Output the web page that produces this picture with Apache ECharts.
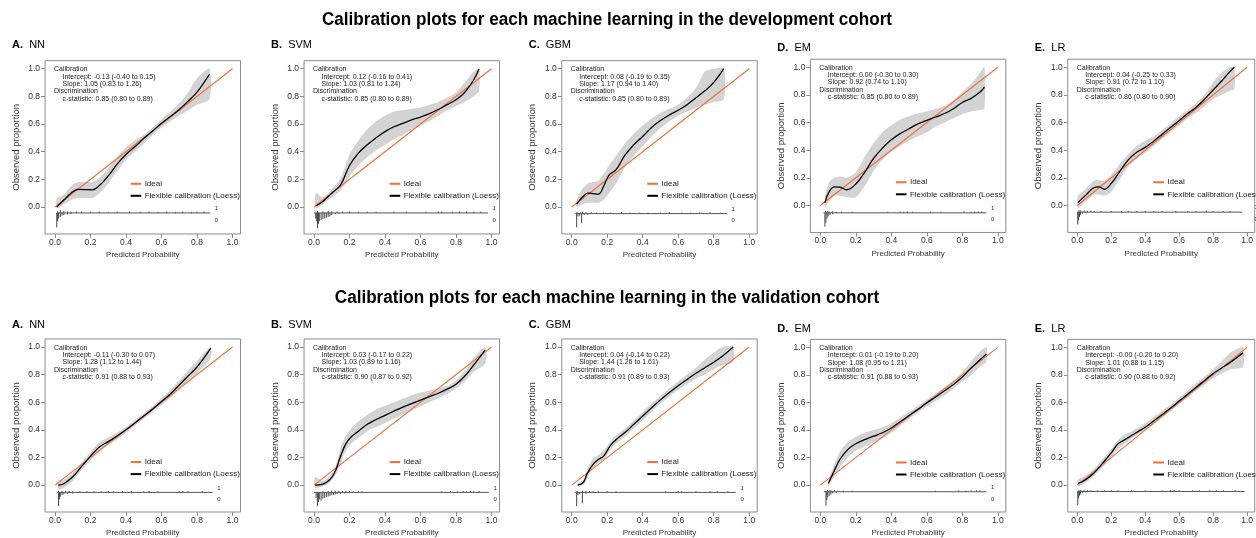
<!DOCTYPE html>
<html><head><meta charset="utf-8">
<script src="https://cdn.jsdelivr.net/npm/echarts@6/dist/echarts.min.js"></script>
<style>html,body{margin:0;padding:0;background:#fff}#c{width:1256px;height:538px}</style>
</head><body><div id="c"></div>
<script>
// ---------------- DATA ----------------
const tickValues = [0, 0.2, 0.4, 0.6, 0.8, 1.0];
const panelLetters = ['A.', 'B.', 'C.', 'D.', 'E.'];
const modelNames = ['NN', 'SVM', 'GBM', 'EM', 'LR'];
const cohortTitles = [
  'Calibration plots for each machine learning in the development cohort',
  'Calibration plots for each machine learning in the validation cohort'
];
const legendNames = ['Ideal', 'Flexible calibration (Loess)'];
const idealLine = [[0, 0], [1, 1]];

// development cohort
const devNN_x   = [0.01,0.05,0.09,0.13,0.17,0.21,0.25,0.3,0.35,0.4,0.45,0.5,0.55,0.6,0.65,0.7,0.75,0.8,0.87];
const devNN_fit = [0.0,0.05,0.1,0.127,0.126,0.124,0.155,0.225,0.31,0.38,0.435,0.495,0.55,0.605,0.655,0.705,0.765,0.83,0.96];
const devNN_hi  = [0.06,0.09,0.15,0.18,0.18,0.18,0.21,0.28,0.36,0.43,0.48,0.52,0.575,0.635,0.69,0.75,0.83,0.93,1.0];
const devNN_lo  = [-0.01,0.02,0.05,0.065,0.065,0.065,0.1,0.17,0.26,0.34,0.4,0.46,0.52,0.575,0.62,0.66,0.7,0.74,0.78];
const devNN_up  = [[0.015,0.012],[0.03,0.02],[0.05,0.015],[0.07,0.012],[0.09,0.01],[0.12,0.01],[0.15,0.01],[0.2,0.008],[0.25,0.01],[0.3,0.008],[0.35,0.01],[0.42,0.01],[0.48,0.008],[0.53,0.01],[0.58,0.008],[0.63,0.01],[0.68,0.008],[0.72,0.01],[0.77,0.008],[0.8,0.01],[0.84,0.01]];
const devNN_down= [[0.01,0.105],[0.015,0.06],[0.02,0.04],[0.03,0.03],[0.04,0.02],[0.05,0.015],[0.07,0.01],[0.09,0.008]];
const devNN_range = [0.01, 0.875];
const devNN_stats = ['-0.13 (-0.40 to 0.15)', '1.05 (0.83 to 1.26)', '0.85 (0.80 to 0.89)'];

const devSVM_x   = [0.01,0.05,0.1,0.15,0.2,0.25,0.3,0.35,0.4,0.45,0.5,0.55,0.6,0.65,0.7,0.75,0.8,0.85,0.9,0.93];
const devSVM_fit = [0.007,0.04,0.1,0.16,0.3,0.39,0.45,0.5,0.545,0.58,0.605,0.63,0.65,0.675,0.705,0.74,0.775,0.83,0.92,1.0];
const devSVM_hi  = [0.1,0.07,0.13,0.21,0.38,0.48,0.56,0.62,0.66,0.69,0.7,0.71,0.72,0.74,0.76,0.79,0.83,0.9,0.98,1.0];
const devSVM_lo  = [-0.01,0.02,0.07,0.12,0.22,0.3,0.36,0.41,0.45,0.49,0.52,0.56,0.59,0.62,0.66,0.7,0.73,0.76,0.8,0.84];
const devSVM_up  = [[0.02,0.015],[0.05,0.012],[0.08,0.015],[0.1,0.012],[0.13,0.01],[0.16,0.01],[0.2,0.01],[0.25,0.008],[0.3,0.01],[0.35,0.008],[0.45,0.01],[0.52,0.01],[0.63,0.008],[0.7,0.01],[0.72,0.01],[0.78,0.008],[0.82,0.01],[0.86,0.01],[0.9,0.008],[0.94,0.01]];
const devSVM_down= [[0.01,0.04],[0.015,0.06],[0.02,0.11],[0.025,0.08],[0.03,0.06],[0.04,0.05],[0.05,0.045],[0.06,0.04],[0.07,0.035],[0.08,0.03],[0.09,0.025],[0.1,0.015],[0.12,0.01],[0.14,0.008]];
const devSVM_range = [0.0, 0.98];
const devSVM_stats = ['0.12 (-0.16 to 0.41)', '1.03 (0.81 to 1.24)', '0.85 (0.80 to 0.89)'];

const devGBM_x   = [0.028,0.06,0.09,0.12,0.15,0.18,0.21,0.25,0.3,0.35,0.4,0.45,0.5,0.55,0.6,0.65,0.7,0.75,0.8,0.857];
const devGBM_fit = [0.02,0.07,0.1,0.097,0.093,0.15,0.23,0.27,0.375,0.45,0.51,0.575,0.625,0.665,0.7,0.74,0.79,0.84,0.9,1.0];
const devGBM_hi  = [0.05,0.13,0.17,0.18,0.19,0.24,0.3,0.37,0.46,0.53,0.59,0.64,0.68,0.71,0.74,0.79,0.86,0.98,1.0,1.0];
const devGBM_lo  = [0.0,0.02,0.03,0.03,0.03,0.05,0.1,0.17,0.29,0.37,0.44,0.51,0.57,0.62,0.66,0.69,0.72,0.74,0.76,0.78];
const devGBM_up  = [[0.03,0.012],[0.05,0.01],[0.06,0.015],[0.08,0.01],[0.11,0.01],[0.14,0.008],[0.18,0.008],[0.22,0.008],[0.28,0.01],[0.33,0.008],[0.38,0.008],[0.43,0.008],[0.5,0.008],[0.55,0.01],[0.62,0.008],[0.67,0.008],[0.72,0.008],[0.78,0.01],[0.84,0.008]];
const devGBM_down= [[0.028,0.1],[0.035,0.02],[0.045,0.015],[0.056,0.07],[0.07,0.01],[0.09,0.008]];
const devGBM_range = [0.02, 0.875];
const devGBM_stats = ['0.08 (-0.19 to 0.35)', '1.17 (0.94 to 1.40)', '0.85 (0.80 to 0.89)'];

const devEM_x   = [0.026,0.05,0.08,0.11,0.15,0.2,0.25,0.3,0.35,0.4,0.45,0.5,0.55,0.6,0.65,0.7,0.75,0.8,0.85,0.9,0.925];
const devEM_fit = [0.02,0.1,0.135,0.133,0.114,0.155,0.24,0.34,0.415,0.475,0.52,0.555,0.59,0.615,0.64,0.665,0.7,0.745,0.775,0.82,0.855];
const devEM_hi  = [0.06,0.17,0.2,0.21,0.2,0.24,0.35,0.45,0.53,0.58,0.62,0.645,0.665,0.68,0.7,0.72,0.76,0.82,0.88,0.96,1.0];
const devEM_lo  = [-0.02,0.03,0.07,0.07,0.06,0.06,0.14,0.25,0.33,0.39,0.43,0.47,0.5,0.53,0.57,0.6,0.63,0.66,0.68,0.69,0.7];
const devEM_up  = [[0.03,0.015],[0.04,0.012],[0.05,0.01],[0.07,0.01],[0.09,0.008],[0.12,0.008],[0.18,0.008],[0.38,0.008],[0.45,0.01],[0.47,0.008],[0.49,0.01],[0.52,0.008],[0.62,0.008],[0.68,0.008],[0.81,0.01],[0.85,0.008],[0.87,0.01],[0.89,0.01],[0.91,0.01]];
const devEM_down= [[0.026,0.1],[0.032,0.07],[0.038,0.04],[0.045,0.025],[0.055,0.015],[0.07,0.01]];
const devEM_range = [0.017, 0.936];
const devEM_stats = ['0.00 (-0.30 to 0.30)', '0.92 (0.74 to 1.10)', '0.85 (0.80 to 0.89)'];

const devLR_x   = [0.004,0.05,0.1,0.125,0.16,0.2,0.25,0.3,0.35,0.4,0.45,0.5,0.55,0.6,0.65,0.7,0.75,0.8,0.85,0.9,0.925];
const devLR_fit = [0.02,0.075,0.13,0.135,0.118,0.16,0.245,0.33,0.385,0.42,0.465,0.515,0.565,0.615,0.665,0.71,0.77,0.835,0.9,0.97,1.0];
const devLR_hi  = [0.07,0.12,0.18,0.185,0.18,0.22,0.3,0.37,0.43,0.47,0.5,0.545,0.595,0.645,0.69,0.74,0.8,0.89,0.96,1.0,1.0];
const devLR_lo  = [-0.02,0.03,0.08,0.08,0.07,0.1,0.19,0.28,0.34,0.38,0.43,0.48,0.53,0.58,0.63,0.67,0.72,0.77,0.8,0.83,0.84];
const devLR_up  = [[0.01,0.015],[0.02,0.012],[0.04,0.012],[0.06,0.01],[0.08,0.01],[0.1,0.008],[0.14,0.008],[0.2,0.008],[0.26,0.008],[0.3,0.008],[0.35,0.008],[0.4,0.008],[0.45,0.008],[0.5,0.008],[0.58,0.008],[0.65,0.008],[0.7,0.008],[0.76,0.01],[0.8,0.008],[0.86,0.008],[0.9,0.008]];
const devLR_down= [[0.003,0.09],[0.008,0.06],[0.013,0.035],[0.02,0.02],[0.03,0.012],[0.05,0.008]];
const devLR_range = [0.0, 0.97];
const devLR_stats = ['0.04 (-0.25 to 0.33)', '0.91 (0.72 to 1.10)', '0.86 (0.80 to 0.90)'];

// validation cohort
const valNN_x   = [0.019,0.05,0.1,0.15,0.2,0.25,0.3,0.35,0.4,0.45,0.5,0.55,0.6,0.65,0.7,0.75,0.8,0.877];
const valNN_fit = [0.0,0.01,0.06,0.135,0.21,0.275,0.315,0.355,0.4,0.45,0.5,0.55,0.605,0.66,0.725,0.79,0.855,0.99];
const valNN_hi  = [0.03,0.04,0.09,0.16,0.24,0.31,0.345,0.38,0.42,0.47,0.52,0.57,0.63,0.69,0.76,0.83,0.9,1.0];
const valNN_lo  = [-0.03,-0.02,0.03,0.11,0.18,0.24,0.29,0.33,0.38,0.43,0.48,0.53,0.58,0.63,0.69,0.75,0.81,0.92];
const valNN_up  = [[0.02,0.012],[0.04,0.01],[0.06,0.012],[0.08,0.01],[0.1,0.008],[0.14,0.008],[0.18,0.008],[0.22,0.008],[0.26,0.008],[0.3,0.01],[0.33,0.008],[0.38,0.008],[0.43,0.008],[0.5,0.008],[0.53,0.01],[0.58,0.008],[0.7,0.01],[0.72,0.01],[0.75,0.008],[0.83,0.008]];
const valNN_down= [[0.02,0.1],[0.025,0.05],[0.03,0.03],[0.04,0.02],[0.05,0.015],[0.07,0.01],[0.1,0.008]];
const valNN_range = [0.013, 0.888];
const valNN_stats = ['-0.11 (-0.30 to 0.07)', '1.28 (1.12 to 1.44)', '0.91 (0.88 to 0.93)'];

const valSVM_x   = [0.006,0.05,0.09,0.12,0.15,0.18,0.21,0.25,0.3,0.35,0.4,0.45,0.5,0.55,0.6,0.65,0.7,0.75,0.8,0.85,0.9,0.964];
const valSVM_fit = [0.0,0.007,0.04,0.1,0.21,0.3,0.35,0.39,0.44,0.475,0.505,0.535,0.565,0.59,0.615,0.64,0.665,0.695,0.73,0.79,0.87,0.978];
const valSVM_hi  = [0.06,0.03,0.07,0.13,0.27,0.36,0.41,0.46,0.51,0.55,0.575,0.6,0.625,0.65,0.67,0.685,0.7,0.72,0.76,0.83,0.92,1.0];
const valSVM_lo  = [-0.02,-0.01,0.02,0.07,0.16,0.25,0.3,0.34,0.39,0.42,0.45,0.48,0.51,0.54,0.57,0.6,0.63,0.66,0.7,0.75,0.82,0.88];
const valSVM_up  = [[0.05,0.008],[0.08,0.01],[0.1,0.012],[0.12,0.01],[0.14,0.012],[0.16,0.01],[0.18,0.012],[0.2,0.01],[0.22,0.008],[0.25,0.008],[0.27,0.008],[0.72,0.008],[0.77,0.01],[0.81,0.008],[0.84,0.01],[0.86,0.008],[0.88,0.01],[0.9,0.008],[0.93,0.01]];
const valSVM_down= [[0.012,0.04],[0.019,0.1],[0.025,0.07],[0.03,0.05],[0.04,0.06],[0.05,0.045],[0.06,0.04],[0.07,0.035],[0.08,0.03],[0.09,0.025],[0.1,0.02],[0.11,0.018],[0.12,0.015],[0.13,0.012],[0.15,0.01],[0.17,0.008],[0.2,0.006]];
const valSVM_range = [0.0, 0.985];
const valSVM_stats = ['0.03 (-0.17 to 0.22)', '1.03 (0.89 to 1.16)', '0.90 (0.87 to 0.92)'];

const valGBM_x   = [0.034,0.066,0.089,0.12,0.15,0.18,0.22,0.26,0.3,0.35,0.4,0.45,0.5,0.55,0.6,0.65,0.7,0.75,0.8,0.85,0.91];
const valGBM_fit = [0.0,0.02,0.087,0.15,0.185,0.21,0.29,0.34,0.38,0.44,0.5,0.56,0.617,0.67,0.72,0.765,0.81,0.85,0.89,0.935,1.0];
const valGBM_hi  = [0.01,0.04,0.12,0.19,0.22,0.25,0.32,0.37,0.41,0.47,0.53,0.59,0.645,0.7,0.75,0.8,0.85,0.91,0.96,1.0,1.0];
const valGBM_lo  = [-0.01,0.0,0.06,0.12,0.16,0.18,0.26,0.31,0.35,0.41,0.47,0.53,0.59,0.64,0.69,0.73,0.77,0.8,0.84,0.87,0.89];
const valGBM_up  = [[0.03,0.01],[0.06,0.012],[0.08,0.01],[0.1,0.01],[0.12,0.008],[0.15,0.008],[0.2,0.008],[0.25,0.008],[0.53,0.008],[0.6,0.01],[0.62,0.008],[0.7,0.008],[0.78,0.008],[0.82,0.008],[0.88,0.008]];
const valGBM_down= [[0.028,0.1],[0.035,0.02],[0.045,0.012],[0.06,0.08],[0.08,0.01]];
const valGBM_range = [0.02, 0.925];
const valGBM_stats = ['0.04 (-0.14 to 0.22)', '1.44 (1.26 to 1.61)', '0.91 (0.89 to 0.93)'];

const valEM_x   = [0.045,0.073,0.11,0.16,0.2,0.25,0.3,0.35,0.4,0.45,0.5,0.55,0.6,0.65,0.7,0.75,0.8,0.85,0.9,0.936];
const valEM_fit = [0.012,0.089,0.186,0.265,0.3,0.33,0.355,0.38,0.415,0.46,0.505,0.55,0.597,0.64,0.685,0.73,0.785,0.85,0.91,0.952];
const valEM_hi  = [0.03,0.13,0.24,0.32,0.35,0.38,0.4,0.42,0.45,0.49,0.53,0.575,0.62,0.665,0.71,0.76,0.82,0.9,0.97,1.0];
const valEM_lo  = [-0.01,0.05,0.13,0.21,0.25,0.28,0.31,0.34,0.38,0.43,0.48,0.525,0.57,0.61,0.65,0.7,0.75,0.8,0.86,0.9];
const valEM_up  = [[0.04,0.012],[0.05,0.01],[0.06,0.012],[0.08,0.01],[0.1,0.008],[0.13,0.008],[0.18,0.008],[0.65,0.008],[0.78,0.01],[0.82,0.008],[0.85,0.01],[0.88,0.01],[0.9,0.01]];
const valEM_down= [[0.032,0.1],[0.037,0.06],[0.042,0.04],[0.05,0.03],[0.06,0.02],[0.07,0.012],[0.09,0.008]];
const valEM_range = [0.02, 0.936];
const valEM_stats = ['0.01 (-0.19 to 0.20)', '1.08 (0.95 to 1.21)', '0.91 (0.88 to 0.93)'];

const valLR_x   = [0.004,0.05,0.1,0.15,0.2,0.24,0.28,0.32,0.36,0.4,0.45,0.5,0.55,0.6,0.65,0.7,0.75,0.8,0.85,0.9,0.976];
const valLR_fit = [0.012,0.04,0.09,0.16,0.234,0.3,0.33,0.36,0.39,0.42,0.465,0.512,0.56,0.61,0.66,0.71,0.76,0.81,0.85,0.89,0.96];
const valLR_hi  = [0.04,0.07,0.12,0.19,0.26,0.33,0.37,0.39,0.42,0.45,0.495,0.54,0.585,0.635,0.685,0.74,0.79,0.84,0.9,0.96,1.0];
const valLR_lo  = [-0.01,0.02,0.07,0.13,0.2,0.26,0.3,0.34,0.37,0.4,0.44,0.49,0.54,0.59,0.635,0.685,0.73,0.775,0.81,0.84,0.86];
const valLR_up  = [[0.01,0.012],[0.02,0.012],[0.04,0.01],[0.06,0.01],[0.08,0.008],[0.12,0.008],[0.16,0.008],[0.2,0.008],[0.24,0.008],[0.32,0.008],[0.4,0.008],[0.5,0.008],[0.55,0.01],[0.57,0.01],[0.6,0.008],[0.68,0.008],[0.72,0.008],[0.78,0.008],[0.82,0.008],[0.86,0.008],[0.93,0.008]];
const valLR_down= [[0.003,0.1],[0.008,0.05],[0.013,0.03],[0.02,0.02],[0.03,0.012],[0.05,0.008]];
const valLR_range = [0.0, 0.985];
const valLR_stats = ['-0.00 (-0.20 to 0.20)', '1.01 (0.88 to 1.15)', '0.90 (0.88 to 0.92)'];

// ---------------- LAYOUT / STYLE ----------------
const XMIN = -0.056, XMAX = 1.045, YMIN = -0.195, YMAX = 1.058;
const UX = 177.5, UY = 138.3;
const colX0 = [55, 314, 571.7, 820.3, 1077.7];
const rowY0 = [[207, 207, 207, 205.5, 205.5], [485.3, 485.3, 485.3, 485.7, 485.7]];
const labelY = [[45.3, 45.3, 45.3, 47.5, 47.5], [325, 325, 325, 328.5, 328.5]];
const titleY = [20, 298];
const spikeBase = [[-0.043, -0.043, -0.048, -0.053, -0.048], [-0.053, -0.053, -0.053, -0.048, -0.046]];
const ORANGE = '#F36F38', BAND = '#D3D3D3', BOXC = '#8c8c8c', TXT = '#333';
const FONT = '"Liberation Sans", Arial, sans-serif';

const panelData = [
  [
    [devNN_x, devNN_fit, devNN_lo, devNN_hi, devNN_up, devNN_down, devNN_range, devNN_stats],
    [devSVM_x, devSVM_fit, devSVM_lo, devSVM_hi, devSVM_up, devSVM_down, devSVM_range, devSVM_stats],
    [devGBM_x, devGBM_fit, devGBM_lo, devGBM_hi, devGBM_up, devGBM_down, devGBM_range, devGBM_stats],
    [devEM_x, devEM_fit, devEM_lo, devEM_hi, devEM_up, devEM_down, devEM_range, devEM_stats],
    [devLR_x, devLR_fit, devLR_lo, devLR_hi, devLR_up, devLR_down, devLR_range, devLR_stats]
  ],
  [
    [valNN_x, valNN_fit, valNN_lo, valNN_hi, valNN_up, valNN_down, valNN_range, valNN_stats],
    [valSVM_x, valSVM_fit, valSVM_lo, valSVM_hi, valSVM_up, valSVM_down, valSVM_range, valSVM_stats],
    [valGBM_x, valGBM_fit, valGBM_lo, valGBM_hi, valGBM_up, valGBM_down, valGBM_range, valGBM_stats],
    [valEM_x, valEM_fit, valEM_lo, valEM_hi, valEM_up, valEM_down, valEM_range, valEM_stats],
    [valLR_x, valLR_fit, valLR_lo, valLR_hi, valLR_up, valLR_down, valLR_range, valLR_stats]
  ]
];

const grids = [], xAxes = [], yAxes = [], series = [], graphics = [];

cohortTitles.forEach((t, r) => {
  graphics.push({
    type: 'text', x: 607, y: titleY[r], scaleX: 0.95,
    style: { text: t, font: 'bold 18px ' + FONT, fill: '#000', textAlign: 'center', textVerticalAlign: 'middle' }
  });
});

let gi = 0;
for (let r = 0; r < 2; r++) {
  for (let c = 0; c < 5; c++) {
    const [xs, fit, lo, hi, up, down, range, stats] = panelData[r][c];
    const x0 = colX0[c], y0 = rowY0[r][c];
    const px = v => x0 + v * UX, py = v => y0 - v * UY;
    const base = spikeBase[r][c];

    grids.push({
      left: px(XMIN), top: py(YMAX), width: (XMAX - XMIN) * UX, height: (YMAX - YMIN) * UY,
      show: true, borderColor: BOXC, borderWidth: 1, backgroundColor: 'transparent'
    });
    xAxes.push({
      gridIndex: gi, type: 'value', min: XMIN, max: XMAX, position: 'bottom',
      axisLine: { show: false, onZero: false }, splitLine: { show: false },
      axisTick: { show: true, inside: false, length: 4, customValues: tickValues, lineStyle: { color: BOXC } },
      axisLabel: { customValues: tickValues, formatter: v => v.toFixed(1), fontSize: 8.5, color: TXT, margin: 4, fontFamily: FONT },
      name: 'Predicted Probability', nameLocation: 'middle', nameGap: 17,
      nameTextStyle: { fontSize: 8, color: TXT, fontFamily: FONT }
    });
    yAxes.push({
      gridIndex: gi, type: 'value', min: YMIN, max: YMAX, position: 'left',
      axisLine: { show: false, onZero: false }, splitLine: { show: false },
      axisTick: { show: true, inside: false, length: 4, customValues: tickValues, lineStyle: { color: BOXC } },
      axisLabel: { customValues: tickValues, formatter: v => v.toFixed(1), fontSize: 8.5, color: TXT, margin: 5, fontFamily: FONT },
      name: 'Observed proportion', nameLocation: 'middle', nameGap: 24,
      nameTextStyle: { fontSize: 9.5, color: TXT, fontFamily: FONT }
    });

    // confidence band
    series.push({
      type: 'custom', xAxisIndex: gi, yAxisIndex: gi, z: 1, silent: true,
      data: xs.map((x, i) => [x, lo[i], hi[i]]),
      encode: { x: 0, y: [1, 2] },
      renderItem: (params, api) => {
        if (params.dataIndex !== 0) return null;
        const pts = [];
        for (let i = 0; i < xs.length; i++) pts.push(api.coord([xs[i], hi[i]]));
        for (let i = xs.length - 1; i >= 0; i--) pts.push(api.coord([xs[i], lo[i]]));
        return { type: 'polygon', shape: { points: pts, smooth: 0.25 }, style: { fill: BAND } };
      }
    });
    // ideal line
    series.push({
      type: 'line', xAxisIndex: gi, yAxisIndex: gi, z: 3, data: idealLine,
      showSymbol: false, silent: true, lineStyle: { color: ORANGE, width: 1.1 }
    });
    // loess fit
    series.push({
      type: 'line', xAxisIndex: gi, yAxisIndex: gi, z: 4, data: xs.map((x, i) => [x, fit[i]]),
      smooth: 0.4, showSymbol: false, silent: true, lineStyle: { color: '#000', width: 1.3 }
    });
    // spike histogram baseline
    series.push({
      type: 'line', xAxisIndex: gi, yAxisIndex: gi, z: 2, data: [[range[0], base], [range[1], base]],
      showSymbol: false, silent: true, lineStyle: { color: '#555', width: 1 }
    });
    // spikes
    series.push({
      type: 'custom', xAxisIndex: gi, yAxisIndex: gi, z: 2, silent: true,
      data: up.map(d => [d[0], base + d[1]]).concat(down.map(d => [d[0], base - d[1]])),
      encode: { x: 0, y: 1 },
      renderItem: (params, api) => {
        const p1 = api.coord([api.value(0), base]);
        const p2 = api.coord([api.value(0), api.value(1)]);
        return { type: 'line', shape: { x1: p1[0], y1: p1[1], x2: p2[0], y2: p2[1] }, style: { stroke: '#444', lineWidth: 1 } };
      }
    });

    // "1" / "0" labels
    graphics.push({ type: 'text', x: px(range[1] + 0.035), y: py(base) - 4.5,
      style: { text: '1', font: '6px ' + FONT, fill: TXT, textAlign: 'center', textVerticalAlign: 'middle' } });
    graphics.push({ type: 'text', x: px(range[1] + 0.035), y: py(base) + 7,
      style: { text: '0', font: '6px ' + FONT, fill: TXT, textAlign: 'center', textVerticalAlign: 'middle' } });

    // statistics annotation
    const annLines = [
      ['Calibration', 0], ['Intercept: ' + stats[0], 8.5], ['Slope: ' + stats[1], 8.5],
      ['Discrimination', 0], ['c-statistic: ' + stats[2], 8.5]
    ];
    annLines.forEach((l, k) => {
      graphics.push({ type: 'text', x: x0 - 1 + l[1], y: py(1.0) + 0.7 + k * 7.3,
        style: { text: l[0], font: '7px ' + FONT, fill: '#222', textAlign: 'left', textVerticalAlign: 'middle' } });
    });

    // legend
    const lx1 = px(0.426), lx2 = px(0.486), tx = px(0.505);
    [[legendNames[0], ORANGE, 0.168], [legendNames[1], '#000', 0.081]].forEach(l => {
      graphics.push({ type: 'line', shape: { x1: lx1, y1: py(l[2]), x2: lx2, y2: py(l[2]) }, style: { stroke: l[1], lineWidth: 2 } });
      graphics.push({ type: 'text', x: tx, y: py(l[2]),
        style: { text: l[0], font: '8px ' + FONT, fill: '#222', textAlign: 'left', textVerticalAlign: 'middle' } });
    });

    // panel label
    graphics.push({ type: 'text', x: px(XMIN) - 33, y: labelY[r][c],
      style: {
        text: '{b|' + panelLetters[c] + '}  ' + modelNames[c],
        font: '11px ' + FONT, fill: '#000', textAlign: 'left', textVerticalAlign: 'middle',
        rich: { b: { fontWeight: 'bold', fontSize: 11, fontFamily: 'Liberation Sans, Arial, sans-serif', fill: '#000' } }
      } });
    gi++;
  }
}

const chart = echarts.init(document.getElementById('c'), null, { renderer: 'canvas' });
chart.setOption({
  backgroundColor: '#fff',
  animation: false,
  grid: grids, xAxis: xAxes, yAxis: yAxes, series: series,
  graphic: { elements: graphics }
});
</script></body></html>
